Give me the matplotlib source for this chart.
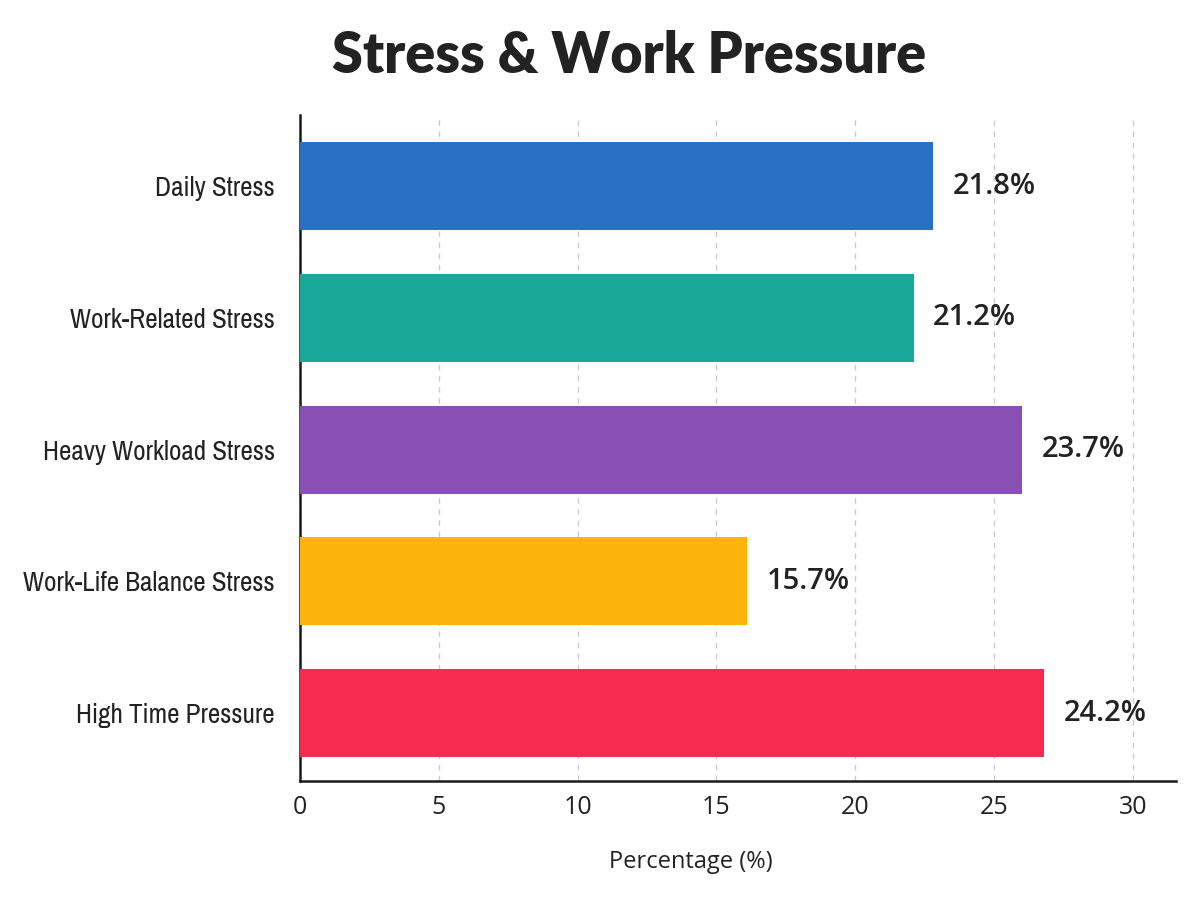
import matplotlib
matplotlib.use("Agg")
import matplotlib.pyplot as plt
from matplotlib import font_manager

categories = ["Daily Stress", "Work-Related Stress", "Heavy Workload Stress",
              "Work-Life Balance Stress", "High Time Pressure"]
bar_values = [22.8, 22.1, 26.0, 16.1, 26.8]
value_labels = ["21.8%", "21.2%", "23.7%", "15.7%", "24.2%"]
colors = ["#2a70c4", "#1aa89a", "#8a4fb4", "#fcb40c", "#f72a50"]
x_ticks = [0, 5, 10, 15, 20, 25, 30]

# look for a condensed face for the category labels
names = sorted({f.name for f in font_manager.fontManager.ttflist})
cond = [n for n in names if "Condensed" in n or "Narrow" in n]
if cond:
    cat_family, cat_size = cond[0], 19.5
else:
    cat_family, cat_size = "Lato", 15.5

fig = plt.figure(figsize=(12, 9), dpi=100)
ax = fig.add_axes([0.25, 1 - 781 / 900, 0.98 - 0.25, (781 - 115) / 900])

y = list(range(len(categories)))
ax.barh(y, bar_values, height=0.667, color=colors, zorder=3)
ax.set_ylim(len(categories) - 1 + 0.515, -0.54)
ax.set_xlim(0, 31.55)

ax.set_yticks(y)
ax.set_yticklabels(categories, family=cat_family, fontsize=cat_size, color="#222222")
ax.set_xticks(x_ticks)
ax.set_xticklabels([str(t) for t in x_ticks], family="Open Sans", fontsize=18, color="#222222")
ax.tick_params(axis="x", length=0, pad=10)
ax.tick_params(axis="y", length=0, pad=18)

ax.grid(axis="x", color="#cccccc", linestyle=(0, (4, 4)), linewidth=1.0, zorder=0)
ax.set_axisbelow(True)

for s in ["top", "right"]:
    ax.spines[s].set_visible(False)
for s in ["left", "bottom"]:
    ax.spines[s].set_linewidth(1.8)
    ax.spines[s].set_color("#1a1a1a")

for yi, v, lab in zip(y, bar_values, value_labels):
    ax.text(v + 0.7, yi, lab, va="center", ha="left", fontsize=21,
            fontweight="semibold", family="Open Sans", color="#222222")

ax.set_xlabel("Percentage (%)", family="Open Sans", fontsize=17, color="#222222")
ax.xaxis.set_label_coords(0.446, -0.104)

fig.text(0.524, 0.938, "Stress & Work Pressure", ha="center", va="center",
         fontsize=40, fontweight="heavy", family="Lato", color="#222222")

fig.savefig("out.png", dpi=100, facecolor="white")
